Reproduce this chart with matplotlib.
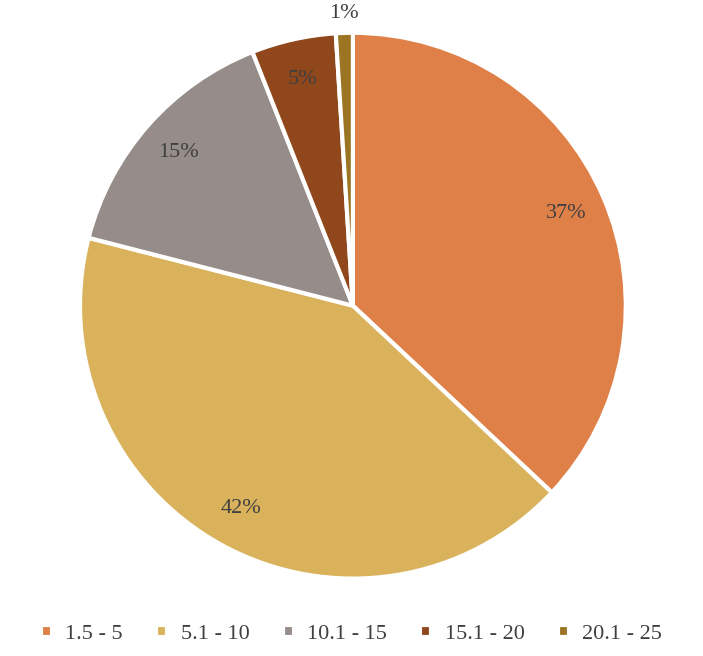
import matplotlib.pyplot as plt
import numpy as np

categories = ["1.5 - 5", "5.1 - 10", "10.1 - 15", "15.1 - 20", "20.1 - 25"]
shares = [37, 42, 15, 5, 1]
colors = ["#DF8048", "#D9B25B", "#968C89", "#8F471B", "#9B7524"]

plt.rcParams['font.family'] = ['Liberation Serif', 'DejaVu Serif']

fig = plt.figure(figsize=(7.03, 6.56), dpi=100)
ax = fig.add_axes([0.502 - 0.3885, 0.534 - 0.416, 0.777, 0.832])

wedges, texts, autotexts = ax.pie(
    shares, colors=colors, startangle=90, counterclock=False,
    autopct='%1.0f%%', pctdistance=0.85,
    wedgeprops=dict(edgecolor='white', linewidth=3),
    textprops=dict(color='#404040', fontsize=16))

# smallest slice label sits outside the pie
w = wedges[-1]
ang = np.deg2rad((w.theta1 + w.theta2) / 2)
autotexts[-1].set_position((1.07 * np.cos(ang), 1.07 * np.sin(ang)))
ax.set_xlim(-1, 1)
ax.set_ylim(-1, 1)
ax.set_aspect('equal')

fig.legend(wedges, categories, loc='lower center', bbox_to_anchor=(0.5, -0.012),
           ncol=5, frameon=False, fontsize=16, handlelength=0.5, handleheight=0.5,
           columnspacing=1.5, handletextpad=0.6, labelcolor='#404040')

fig.savefig('out.png', facecolor='white')
